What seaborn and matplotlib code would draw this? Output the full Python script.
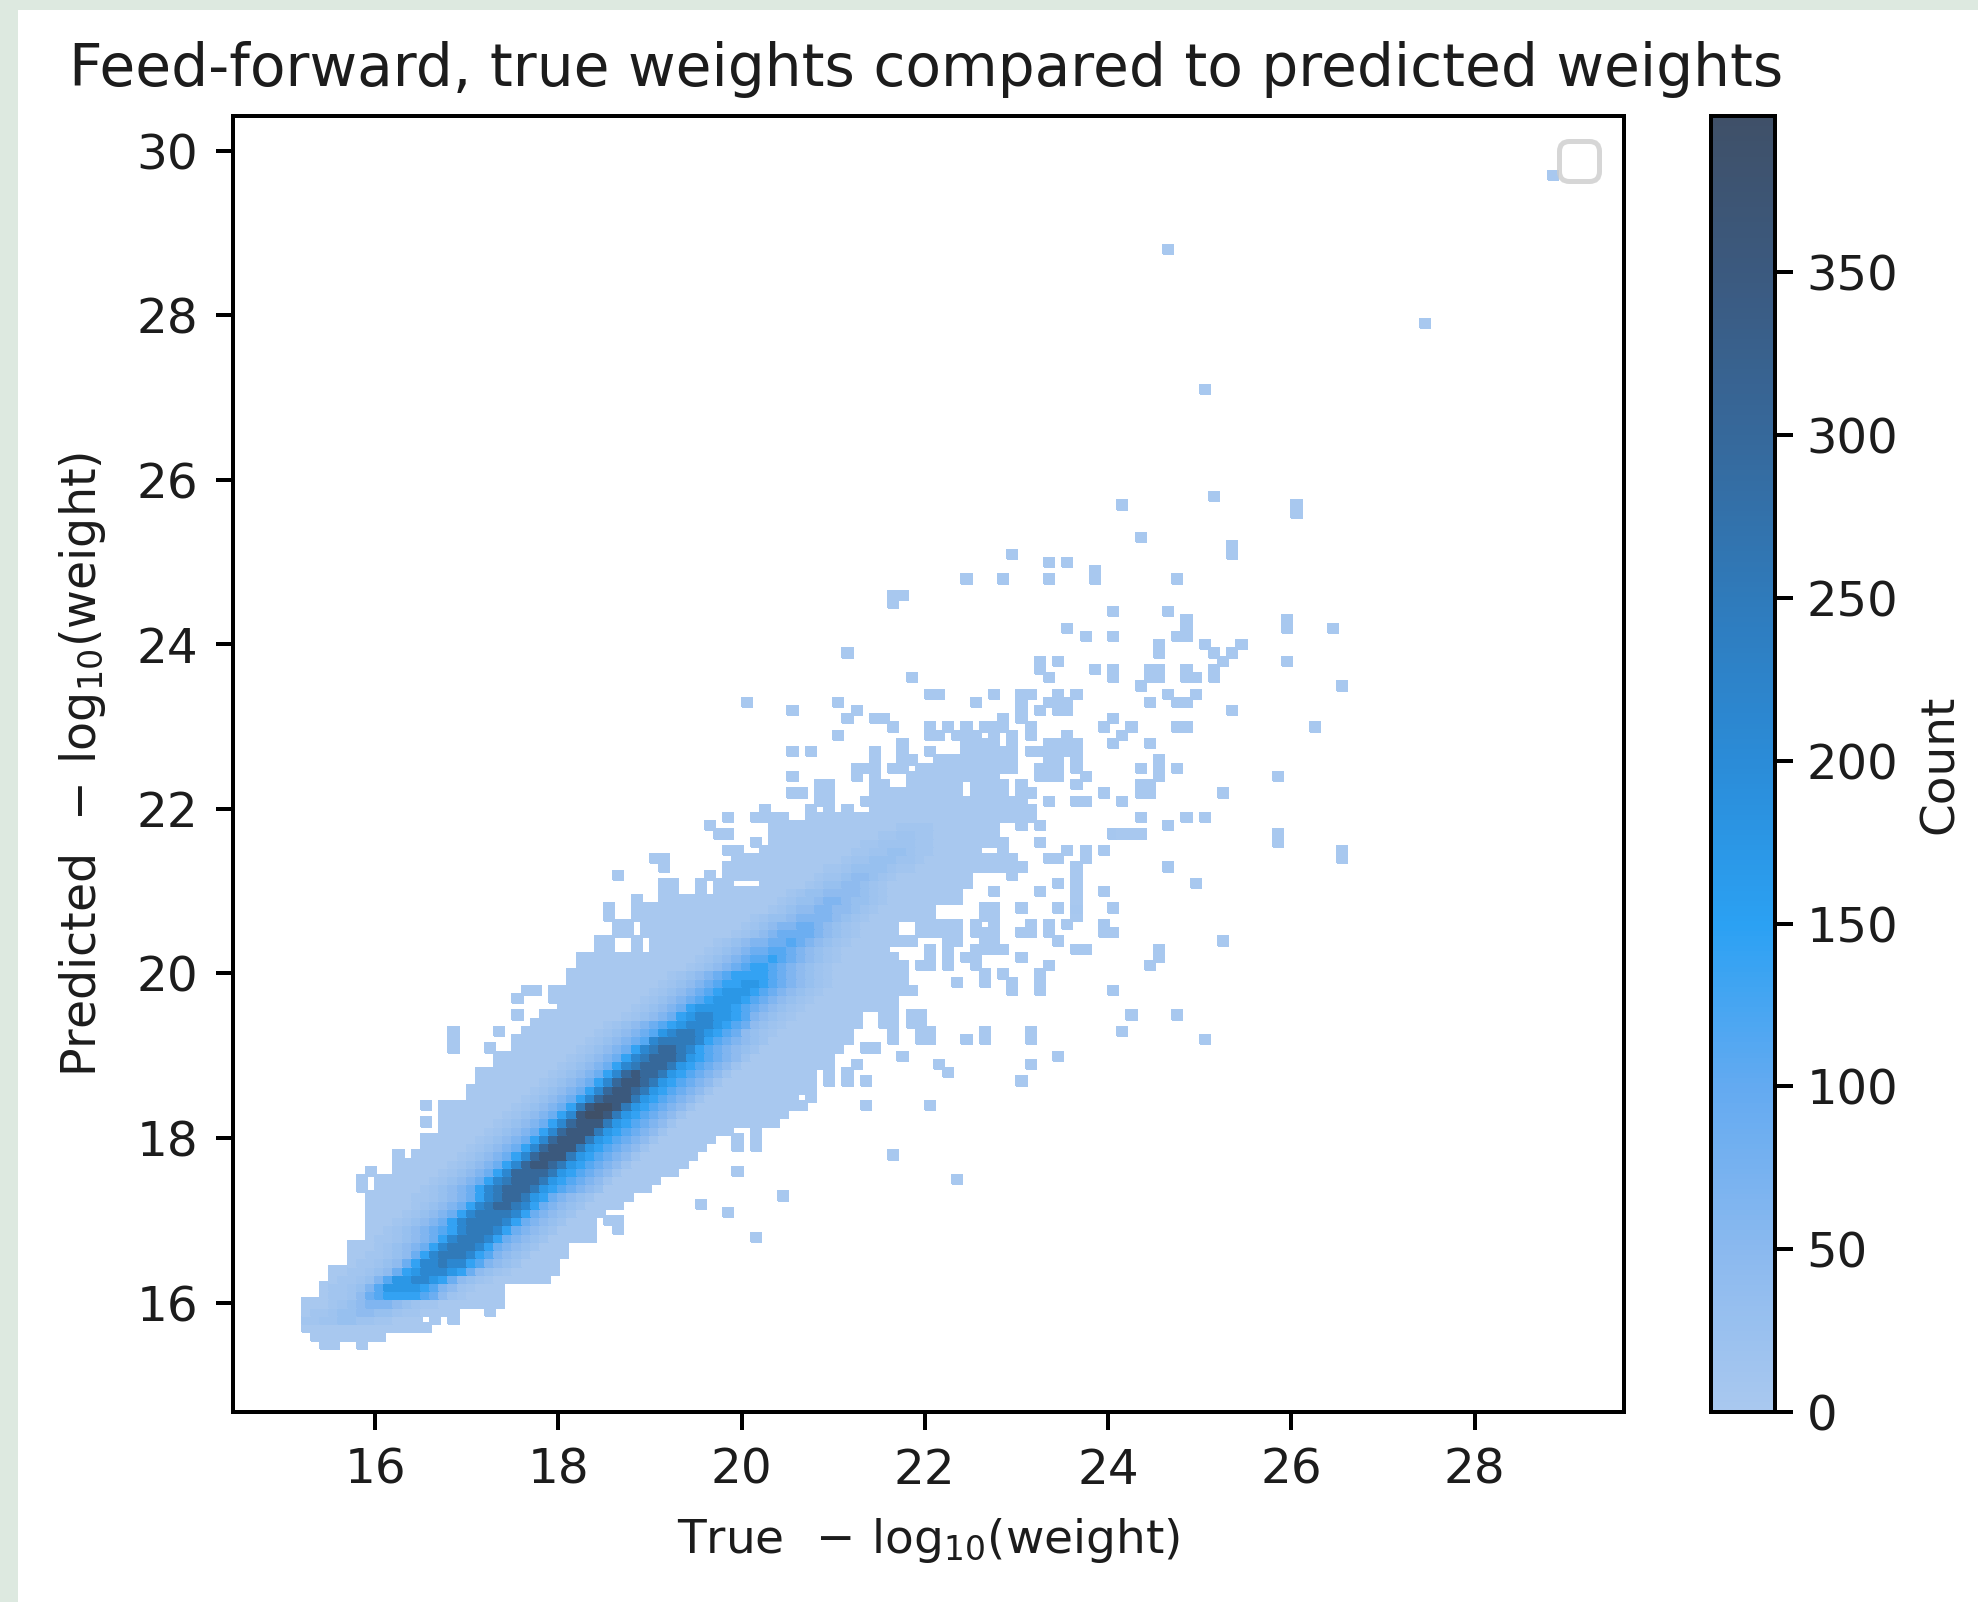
import numpy as np
import pandas as pd
import matplotlib
matplotlib.use("Agg")
import matplotlib.pyplot as plt
from matplotlib.patches import Rectangle
import seaborn as sns

# Ridge of the histogram: one row per y, counts coded by letter
level_names = list("abcdefghijklmn")
level_counts = [8, 15, 25, 40, 60, 85, 110, 140, 170, 210, 250, 300, 350, 395]

band_y = [15.8, 15.9, 16.0, 16.1, 16.2, 16.3, 16.4, 16.5, 16.6, 16.7, 16.8, 16.9, 17.0, 17.1, 17.2, 17.3,
          17.4, 17.5, 17.6, 17.7, 17.8, 17.9, 18.0, 18.1, 18.2, 18.3, 18.4, 18.5, 18.6, 18.7, 18.8, 18.9,
          19.0, 19.1, 19.2, 19.3, 19.4, 19.5, 19.6, 19.7, 19.8, 19.9, 20.0, 20.1, 20.2, 20.3, 20.4, 20.5,
          20.6, 20.7, 20.8, 20.9, 21.0, 21.1, 21.2, 21.3, 21.4, 21.5, 21.6, 21.7, 21.8]
band_start = [14.8, 14.9, 15.0, 15.1, 15.2, 15.3, 15.4, 15.5, 15.6, 15.7, 15.8, 15.9, 16.0, 16.1, 16.2, 16.3,
              16.4, 16.5, 16.6, 16.7, 16.8, 16.9, 17.0, 17.1, 17.2, 17.3, 17.4, 17.5, 17.6, 17.7, 17.8, 17.9,
              18.0, 18.1, 18.2, 18.3, 18.4, 18.5, 18.6, 18.7, 18.8, 18.9, 19.0, 19.1, 19.2, 19.3, 19.4, 19.5,
              19.6, 19.7, 19.8, 19.9, 20.0, 20.1, 20.2, 20.3, 20.4, 20.5, 20.6, 20.7, 20.8]
band_levels = [
    "....aabbccbbaa.......", "....aabccddccbaa.....", ".....abcdeeedcbaa....", "....aabdfghhhhgfdba..",
    "...aabcegiiiihgedba..", "...aabcegiijjihfdcba.", "...aabcdfhijjjihfdcba", "...aabcdfhjjkjjhgedcb",
    "...aabcdfhjkkkjhgedcb", "...abcdefhjkkkjhfedcb", "..aabcdefhjkkkjhfedcb", "..abcdefghjkkkjhfedcb",
    "..abcdefhjkkkkjhfedcb", "..abcdefhjkkkkjhfedcb", "..abcdefhjkllkjhfedcb", ".aabcdefhjkllkihfedcb",
    ".abcdefhjklllkihgfedc", ".abcdefhjklllkihgfedb", ".abcdefhjllllkihgfedb", ".abcdefhjlmmlkihgfedb",
    ".abcdefhjlmmmkihgfedb", ".abcdefhjlmmmkihgfedb", ".abcdefhjlmmmkihgfedb", ".abcdefhjlmmmkihgfedb",
    ".abcdefhjlmmmkihgfedb", ".abcdefhjmnnmkihgfedb", ".abcdefhkmnnmkihgfedb", ".abcdefhjlmmmkihgfedb",
    ".abcdefhjlmmlkihgfedb", ".abcdefhjlmmlkihgfedb", ".abcdefhjlmllkihgfedb", ".abcdefhjklllkihgfedb",
    ".abcdefhjklllkihgfedb", ".abcdefhjkllkjhgfedcb", ".abcdefgjkkkkjhgfedcb", ".abcdefgijkkjihgfdcba",
    ".abcdefghijjjihgfdcba", "..abcdefhijjiihgedcba", "..abcdefhiiiihgfedcba", "..abcdefghiiihgfedcba",
    "..abcdefghiiihgfedcba", "..abcdefghhiihgfedcba", "..abcdefghhhhgfedcba.", "...abcdefghhgfedcba..",
    "...abcdefgghgfedcba..", "...abcdeffggfedcba...", "...abcdeeffgfedcba...", "....abcdeffffedcba...",
    "....abcdeeffedcba....", "....abccdeeeedcba....", ".....abcddeeddcba....", ".....abccdeedccba....",
    ".....abccddddcba.....", "......abccddcba......", "......abbcddcba......", "......aabccccbaa.....",
    ".......abbcccbba.....", ".......aabbccbaa.....", ".......aabbbbaa......", "........aabbaa.......",
    ".........aaaa........",
]

# Low count cells: stretches of x per row of y
light_count = 3
light_y = [15.5, 15.6, 15.7, 15.8, 15.9, 16.0, 16.1, 16.2, 16.3, 16.4, 16.5, 16.6, 16.7, 16.8, 16.9, 17.0,
           17.1, 17.2, 17.3, 17.4, 17.5, 17.6, 17.7, 17.8, 17.9, 18.0, 18.1, 18.2, 18.3, 18.4, 18.5, 18.6,
           18.7, 18.8, 18.9, 19.0, 19.1, 19.2, 19.3, 19.4, 19.5, 19.6, 19.7, 19.8, 19.9, 20.0, 20.1, 20.2,
           20.3, 20.4, 20.5, 20.6, 20.7, 20.8, 20.9, 21.0, 21.1, 21.2, 21.3, 21.4, 21.5, 21.6, 21.7, 21.8,
           21.9, 22.0, 22.1, 22.2, 22.3, 22.4, 22.5, 22.6, 22.7, 22.8, 22.9, 23.0, 23.1, 23.2, 23.3, 23.4,
           23.6, 23.7, 23.8, 23.9]
light_spans = [
    [(15.4, 15.65), (15.8, 15.93)],
    [(15.32, 16.15)],
    [(15.13, 16.53)],
    [(15.2, 16.53), (16.62, 16.73), (16.82, 16.97)],
    [(15.13, 15.24), (15.32, 16.97), (17.13, 17.22)],
    [(15.13, 15.24), (15.32, 17.45)],
    [(15.4, 17.45)],
    [(15.4, 17.45)],
    [(15.5, 17.95)],
    [(15.5, 18.0)],
    [(15.7, 18.0)],
    [(15.7, 18.13)],
    [(15.7, 18.13)],
    [(15.9, 18.44)],
    [(15.9, 18.44), (18.6, 18.75)],
    [(15.9, 18.44), (18.49, 18.75)],
    [(15.9, 18.5)],
    [(15.9, 18.75)],
    [(15.9, 18.8)],
    [(15.82, 15.93), (16.0, 19.0)],
    [(15.82, 15.93), (16.0, 19.15)],
    [(15.9, 16.04), (16.2, 19.3)],
    [(16.2, 19.4)],
    [(16.2, 16.33), (16.42, 19.55)],
    [(16.5, 19.65), (19.9, 20.05)],
    [(16.5, 19.75), (19.9, 20.0), (20.1, 20.2)],
    [(16.7, 19.9), (20.1, 20.2)],
    [(16.5, 16.65), (16.7, 20.4)],
    [(16.7, 20.5)],
    [(16.5, 16.65), (16.7, 20.7), (21.25, 21.35)],
    [(16.93, 17.04), (17.11, 20.65), (20.7, 20.85)],
    [(16.93, 17.04), (17.11, 20.8)],
    [(17.11, 20.85), (20.9, 21.05), (21.1, 21.22), (21.3, 21.45)],
    [(17.11, 20.85), (20.9, 21.05), (21.1, 21.25)],
    [(17.3, 21.03), (21.2, 21.3)],
    [(17.3, 21.03), (21.7, 21.85)],
    [(16.82, 16.96), (17.18, 17.33), (17.43, 21.1), (21.3, 21.5)],
    [(16.82, 16.96), (17.45, 21.2), (21.57, 21.72), (21.88, 22.14), (22.37, 22.52), (22.6, 22.72), (23.1, 23.2)],
    [(16.82, 16.96), (17.31, 17.45), (17.62, 21.25), (21.57, 21.72), (21.88, 22.14)],
    [(17.65, 21.3), (21.5, 21.72), (21.81, 22.03)],
    [(17.44, 17.54), (17.8, 21.34), (21.5, 21.72), (21.81, 22.03)],
    [(17.95, 21.72)],
    [(17.49, 17.63), (17.9, 21.75)],
    [(17.6, 17.85), (17.9, 21.92), (22.9, 23.03), (23.19, 23.34), (24.0, 24.1)],
    [(18.1, 21.83), (22.3, 22.41), (22.6, 22.72), (22.88, 23.03), (23.19, 23.34)],
    [(18.1, 21.83), (22.6, 22.72), (22.79, 22.9), (23.19, 23.34)],
    [(18.2, 21.83), (21.88, 22.14), (22.19, 22.34), (22.48, 22.63), (23.28, 23.44)],
    [(18.2, 21.72), (21.99, 22.14), (22.19, 22.34), (22.37, 22.63), (22.97, 23.14)],
    [(18.4, 18.63), (18.73, 18.82), (18.93, 21.61), (21.99, 22.14), (22.19, 22.34), (22.5, 22.9), (23.59, 23.83)],
    [(18.4, 18.63), (18.73, 18.82), (18.93, 21.83), (22.19, 22.41), (22.6, 22.83), (23.41, 23.52)],
    [(18.6, 18.8), (18.9, 21.72), (21.88, 22.41), (22.48, 22.83), (23.0, 23.2), (23.3, 23.44), (23.9, 24.1)],
    [(18.6, 18.8), (18.9, 21.72), (21.88, 22.41), (22.48, 22.63), (22.68, 22.83), (23.1, 23.2), (23.3, 23.44), (23.9, 24.0)],
    [(18.5, 18.63), (18.73, 22.1), (22.6, 22.83)],
    [(18.5, 18.63), (18.73, 21.75), (21.8, 22.14), (22.6, 22.83), (23.0, 23.14), (23.41, 23.52), (23.59, 23.7)],
    [(18.73, 18.82), (19.03, 22.41)],
    [(19.03, 19.14), (19.2, 19.3), (19.5, 19.6), (19.72, 22.41), (22.68, 22.83), (23.19, 23.34), (23.59, 23.7), (23.9, 24.0)],
    [(19.03, 19.14), (19.2, 19.3), (19.5, 19.6), (19.72, 20.0), (20.2, 22.52), (23.41, 23.52), (23.59, 23.7)],
    [(18.6, 18.76), (19.53, 19.63), (19.8, 22.52), (22.88, 23.03), (23.59, 23.7)],
    [(19.03, 19.14), (19.8, 23.14), (23.59, 23.7)],
    [(19.03, 19.14), (19.9, 23.03), (23.3, 23.52)],
    [(19.8, 20.05), (20.2, 22.67), (22.79, 22.9), (23.5, 23.62), (23.68, 23.83), (23.9, 24.0)],
    [(20.1, 20.2), (20.3, 22.9), (23.19, 23.34)],
    [(19.7, 19.95), (20.3, 22.8), (24.0, 24.1)],
    [(19.6, 19.75), (20.3, 22.83), (23.0, 23.14), (23.19, 23.34)],
    [(19.8, 19.92), (20.09, 20.54), (20.7, 23.2)],
    [(20.2, 20.3), (20.7, 20.83), (20.87, 21.05), (21.1, 21.23), (21.4, 23.2)],
    [(20.8, 21.03), (21.32, 23.2), (23.3, 23.44), (23.59, 23.83)],
    [(20.5, 20.74), (20.8, 21.03), (21.4, 22.41), (22.48, 22.88), (23.0, 23.2), (23.9, 24.0)],
    [(20.8, 21.0), (21.4, 21.6), (21.81, 22.41), (22.43, 22.83), (23.0, 23.14), (23.59, 23.7)],
    [(20.5, 20.6), (21.2, 21.36), (21.4, 21.5), (21.81, 22.83), (23.19, 23.52), (23.68, 23.83)],
    [(21.2, 21.5), (21.57, 21.8), (21.9, 23.0), (23.19, 23.52), (23.59, 23.7)],
    [(21.4, 21.54), (21.68, 21.9), (22.12, 23.03), (23.3, 23.52), (23.59, 23.7)],
    [(20.5, 20.6), (20.7, 20.85), (21.4, 21.54), (21.68, 21.85), (21.99, 22.14), (22.37, 23.03), (23.1, 23.7)],
    [(21.68, 21.85), (22.37, 22.85), (22.88, 23.03), (23.3, 23.7), (24.0, 24.1)],
    [(21.01, 21.12), (21.99, 22.23), (22.3, 22.63), (22.7, 22.83), (22.88, 23.03), (23.1, 23.2), (23.5, 23.62)],
    [(21.57, 21.72), (21.99, 22.15), (22.19, 22.34), (22.37, 22.52), (22.6, 22.9), (23.1, 23.2), (23.9, 24.0)],
    [(21.1, 21.23), (21.4, 21.6), (22.79, 22.9), (23.0, 23.14), (24.0, 24.1)],
    [(20.5, 20.6), (21.2, 21.34), (23.0, 23.14), (23.19, 23.34), (23.41, 23.62)],
    [(20.02, 20.12), (21.01, 21.12), (22.48, 22.65), (23.0, 23.1), (23.3, 23.62)],
    [(21.99, 22.23), (22.68, 22.83), (23.0, 23.2), (23.41, 23.52), (23.59, 23.7)],
    [(21.8, 21.92), (23.3, 23.44), (24.0, 24.1)],
    [(23.19, 23.3), (23.79, 23.93), (24.0, 24.1)],
    [(23.19, 23.34), (23.41, 23.52)],
    [(21.1, 21.23)],
]

# Isolated cells away from the cloud
stray_x = [25.15, 24.14, 26.0, 26.0, 24.35, 25.35, 25.35, 22.95, 23.37, 23.55, 23.85, 23.85, 22.85, 23.37, 24.76,
           24.05, 24.66, 24.85, 24.85, 24.85, 24.75, 25.94, 25.94, 23.55, 26.45, 23.75, 24.05, 24.55, 24.55, 25.05,
           25.45, 25.15, 25.35, 25.25, 25.94, 24.45, 24.55, 24.45, 24.55, 24.85, 24.85, 25.15, 25.15, 24.95, 24.35,
           26.55, 24.66, 24.95, 24.45, 24.75, 24.85, 25.35, 24.05, 24.25, 24.75, 24.85, 26.25, 24.15, 24.05, 24.45,
           24.55, 24.55, 24.35, 24.75, 24.55, 25.85, 24.35, 24.45, 24.35, 24.45, 25.25, 24.15, 24.35, 24.85, 25.05,
           24.65, 24.05, 24.15, 24.25, 24.35, 25.85, 25.85, 26.55, 26.55, 24.65, 24.9, 24.65, 24.0, 23.95, 24.5,
           24.5, 25.25, 24.45, 24.05, 24.25, 24.75, 24.15, 25.05, 23.6, 23.6, 23.6, 23.7, 23.5, 23.45, 23.15,
           23.15, 23.05, 22.65, 22.45, 22.15, 22.25, 22.05, 21.65, 22.35, 20.45, 20.15, 19.95, 19.85, 20.15, 19.55,
           24.66, 27.45, 25.05, 28.85, 21.65, 21.75, 21.65, 22.45, 22.85, 19.05]
stray_y = [25.8, 25.7, 25.7, 25.6, 25.3, 25.2, 25.1, 25.1, 25.0, 25.0, 24.9, 24.8, 24.8, 24.8, 24.8,
           24.4, 24.4, 24.3, 24.2, 24.1, 24.1, 24.3, 24.2, 24.2, 24.2, 24.1, 24.1, 24.0, 23.9, 24.0,
           24.0, 23.9, 23.9, 23.8, 23.8, 23.7, 23.7, 23.6, 23.6, 23.7, 23.6, 23.7, 23.6, 23.6, 23.5,
           23.5, 23.4, 23.4, 23.3, 23.3, 23.3, 23.2, 23.1, 23.0, 23.0, 23.0, 23.0, 22.9, 22.8, 22.8,
           22.6, 22.5, 22.5, 22.5, 22.4, 22.4, 22.3, 22.3, 22.2, 22.2, 22.2, 22.1, 21.9, 21.9, 21.9,
           21.8, 21.7, 21.7, 21.7, 21.7, 21.7, 21.6, 21.5, 21.4, 21.3, 21.05, 21.25, 20.8, 20.55, 20.3,
           20.2, 20.4, 20.1, 19.8, 19.5, 19.5, 19.3, 19.2, 20.8, 20.9, 20.7, 21.4, 20.55, 19.0, 19.3,
           18.9, 18.7, 19.25, 19.2, 18.85, 18.75, 18.4, 17.8, 17.5, 17.3, 17.9, 17.6, 17.1, 16.8, 17.2,
           28.8, 27.9, 27.1, 29.7, 24.6, 24.6, 24.5, 24.8, 24.8, 21.4]

cbar_colors = ["#a9c8ef", "#8ab9ef", "#63aaf1", "#2ba1f3", "#2b8cd8", "#2f7bbc", "#36699c", "#3b5a80", "#3f5068"]

FIG_W, FIG_H = 1979, 1602
DPI = 360

# expand the typed rows into one record per cell
xs, ys, counts = [], [], []
for y, spans in zip(light_y, light_spans):
    for x0, x1 in spans:
        n = max(1, round((x1 - x0 - 0.04) / 0.1))
        for i in range(n):
            xs.append(x0 + 0.07 + 0.1 * i)
            ys.append(y)
            counts.append(light_count)
for x, y in zip(stray_x, stray_y):
    xs.append(x)
    ys.append(y)
    counts.append(light_count)
lookup = dict(zip(level_names, level_counts))
for y, start, row in zip(band_y, band_start, band_levels):
    for i, ch in enumerate(row):
        if ch != ".":
            xs.append(start + 0.1 * i + 0.05)
            ys.append(y)
            counts.append(lookup[ch])
cells = pd.DataFrame({"x": xs, "y": ys, "count": counts})

plt.rcParams["text.color"] = "#1c1c1c"
plt.rcParams["axes.labelcolor"] = "#1c1c1c"
plt.rcParams["xtick.labelcolor"] = "#1c1c1c"
plt.rcParams["ytick.labelcolor"] = "#1c1c1c"

fig = plt.figure(figsize=(FIG_W / DPI, FIG_H / DPI), facecolor="#dde9e0")
fig.add_artist(Rectangle((18 / FIG_W, 0), 1 - 18 / FIG_W, 1 - 10 / FIG_H, transform=fig.transFigure,
                         facecolor="white", edgecolor="none", zorder=-1))
ax = fig.add_axes([233 / FIG_W, 1 - 1412 / FIG_H, 1391 / FIG_W, 1296 / FIG_H])
cax = fig.add_axes([1711 / FIG_W, 1 - 1412 / FIG_H, 64 / FIG_W, 1296 / FIG_H])

sns.histplot(data=cells, x="x", y="y", weights="count", binwidth=0.1,
             binrange=((15.1, 29.1), (15.45, 29.85)),
             cmap=sns.blend_palette(cbar_colors, as_cmap=True),
             cbar=True, cbar_ax=cax, cbar_kws={"label": "Count"}, ax=ax)
ax.collections[0].set_edgecolor("face")
ax.collections[0].set_linewidth(0.5)

ax.set_xlim(14.45, 29.63)
ax.set_ylim(14.67, 30.42)
ax.tick_params(labelsize=9.7)
cax.tick_params(labelsize=9.6, pad=2.8)
cax.yaxis.label.set_size(9.4)
ax.set_xlabel(r"True $\,-\,\log_{10}\!$(weight)", fontsize=9.4, labelpad=4.4)
ax.set_ylabel(r"Predicted $\,-\,\log_{10}\!$(weight)", fontsize=9.5, labelpad=5.7)
ax.set_title("Feed-forward, true weights compared to predicted weights", fontsize=11.65, x=0.498)
ax.legend(handles=[], loc="upper right")

fig.savefig("out.png", dpi=DPI, facecolor=fig.get_facecolor())
